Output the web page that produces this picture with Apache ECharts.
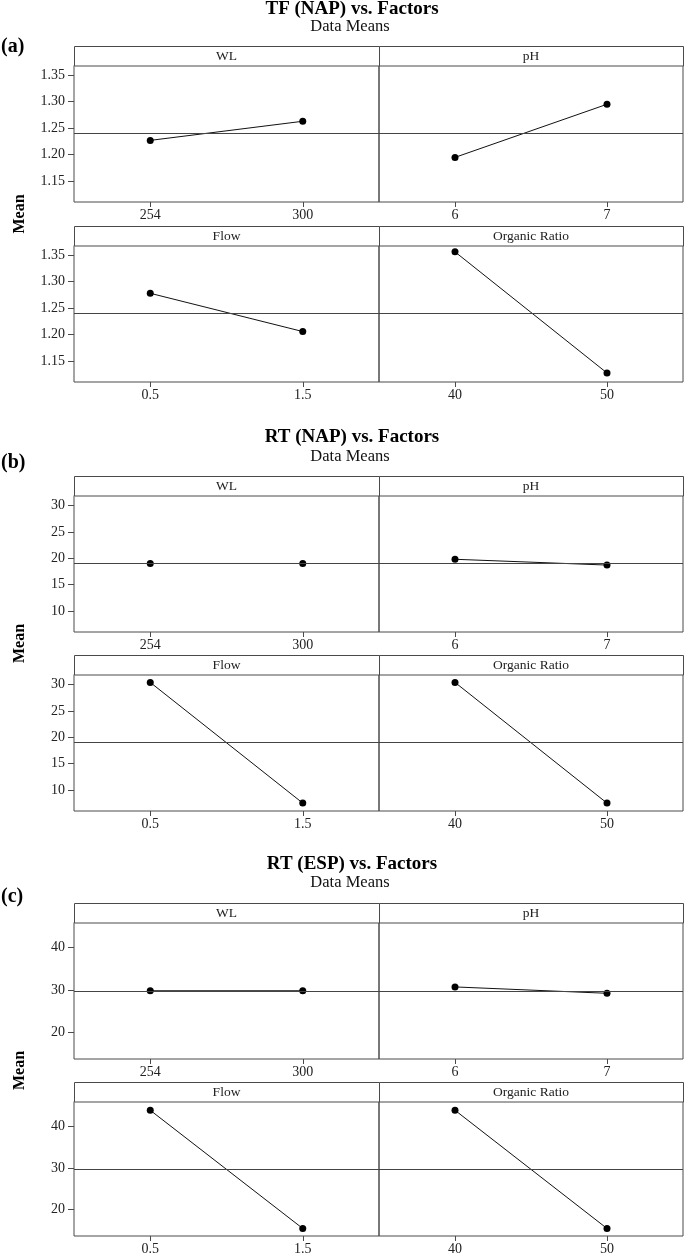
<!DOCTYPE html>
<html>
<head>
<meta charset="utf-8">
<script src="https://cdn.jsdelivr.net/npm/echarts@6/dist/echarts.min.js"></script>
<style>
html,body{margin:0;padding:0;background:#fff;}
#chart{width:685px;height:1256px;}
</style>
</head>
<body>
<div id="chart"></div>
<script>
// ---- data ----
const titles = ['TF (NAP) vs. Factors', 'RT (NAP) vs. Factors', 'RT (ESP) vs. Factors'];
const subtitle = 'Data Means';
const tags = ['(a)', '(b)', '(c)'];
const factorNames = ['WL', 'pH', 'Flow', 'Organic Ratio'];
const levelLabels = [['254', '300'], ['6', '7'], ['0.5', '1.5'], ['40', '50']];
const tfNapMeans = [[1.227, 1.263], [1.195, 1.295], [1.278, 1.206], [1.356, 1.128]];
const rtNapMeans = [[19.0, 19.0], [19.8, 18.7], [30.4, 7.5], [30.4, 7.5]];
const rtEspMeans = [[29.8, 29.8], [30.7, 29.2], [43.8, 15.5], [43.8, 15.5]];
const grandMeans = [1.241, 19.0, 29.7];
const yTickValues = [[1.15, 1.20, 1.25, 1.30, 1.35], [10, 15, 20, 25, 30], [20, 30, 40]];
const yDecimals = [2, 0, 0];
const yRanges = [[1.111, 1.368], [6.0, 31.9], [13.7, 45.9]];
const yAxisName = 'Mean';

// ---- layout ----
const allMeans = [tfNapMeans, rtNapMeans, rtEspMeans];
const layout = [
  { titleY: 9, subY: 27, tagY: 47, stripTops: [46, 226] },
  { titleY: 437, subY: 457, tagY: 463, stripTops: [476, 655] },
  { titleY: 864, subY: 883, tagY: 897, stripTops: [903, 1082] }
];
const stripH = 19.5, plotH = 136.5;
const colLeft = [74, 379], colW = [305, 304];
const SERIF = '"Liberation Serif", "DejaVu Serif", serif';
const frameColor = '#4a4a4a';

const grids = [], xAxes = [], yAxes = [], series = [], graphics = [];

allMeans.forEach((means, c) => {
  const L = layout[c];
  graphics.push({ type: 'text', x: 352, y: L.titleY, style: { text: titles[c], font: 'bold 19px ' + SERIF, fill: '#000', align: 'center', verticalAlign: 'middle' } });
  graphics.push({ type: 'text', x: 350, y: L.subY, style: { text: subtitle, font: '16.5px ' + SERIF, fill: '#111', align: 'center', verticalAlign: 'middle' } });
  graphics.push({ type: 'text', x: 1, y: L.tagY, style: { text: tags[c], font: 'bold 20px ' + SERIF, fill: '#000', align: 'left', verticalAlign: 'middle' } });
  const midY = (L.stripTops[0] + stripH + plotH + L.stripTops[1]) / 2;
  graphics.push({ type: 'text', x: 20, y: midY, rotation: Math.PI / 2, style: { text: yAxisName, font: 'bold 16px ' + SERIF, fill: '#000', align: 'center', verticalAlign: 'middle' } });

  factorNames.forEach((fname, f) => {
    const row = Math.floor(f / 2), col = f % 2;
    const gi = grids.length;
    const stripTop = L.stripTops[row];
    const top = stripTop + stripH;
    grids.push({ left: colLeft[col], top: top, width: colW[col], height: plotH, show: true, borderColor: frameColor, borderWidth: 1, backgroundColor: 'transparent' });
    graphics.push({ type: 'rect', shape: { x: colLeft[col] + 0.5, y: stripTop + 0.5, width: colW[col], height: stripH }, style: { fill: '#fff', stroke: frameColor, lineWidth: 1 } });
    graphics.push({ type: 'text', x: colLeft[col] + colW[col] / 2, y: stripTop + stripH / 2 + 1, style: { text: fname, font: '13.5px ' + SERIF, fill: '#222', align: 'center', verticalAlign: 'middle' } });
    xAxes.push({
      type: 'category', gridIndex: gi, data: levelLabels[f], boundaryGap: true,
      axisLine: { show: false },
      axisTick: { show: true, alignWithLabel: true, length: 5, lineStyle: { color: frameColor } },
      axisLabel: { fontFamily: SERIF, fontSize: 14, color: '#222', margin: 6 },
      splitLine: { show: false }
    });
    yAxes.push({
      type: 'value', gridIndex: gi, min: yRanges[c][0], max: yRanges[c][1],
      show: col === 0,
      axisLine: { show: false },
      axisTick: { show: true, length: 6, customValues: yTickValues[c], lineStyle: { color: frameColor } },
      axisLabel: { customValues: yTickValues[c], fontFamily: SERIF, fontSize: 14, color: '#222', margin: 9,
        formatter: v => Number(v).toFixed(yDecimals[c]) },
      splitLine: { show: false }
    });
    series.push({
      type: 'line', xAxisIndex: gi, yAxisIndex: gi, data: means[f],
      symbol: 'circle', symbolSize: 7, showSymbol: true,
      lineStyle: { color: '#111', width: 1 }, itemStyle: { color: '#000' },
      markLine: { silent: true, symbol: ['none', 'none'], label: { show: false },
        lineStyle: { color: '#444', type: 'solid', width: 1.2 }, data: [{ yAxis: grandMeans[c] }] }
    });
  });
});

const chart = echarts.init(document.getElementById('chart'), null, { renderer: 'canvas' });
chart.setOption({
  animation: false,
  backgroundColor: '#fff',
  grid: grids, xAxis: xAxes, yAxis: yAxes, series: series,
  graphic: graphics
});
</script>
</body>
</html>
